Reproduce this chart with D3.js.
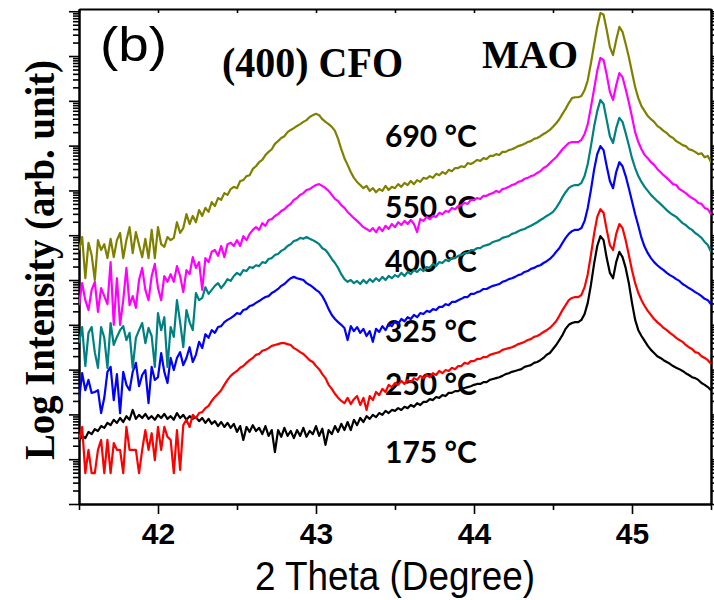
<!DOCTYPE html>
<html>
<head>
<meta charset="utf-8">
<script src="https://cdn.jsdelivr.net/npm/d3@7"></script>
<style>
  html, body { margin: 0; padding: 0; background: #fff; }
  svg { display: block; }
</style>
</head>
<body>
<svg id="chart" width="714" height="600"></svg>
<script>
// XRD scan: 2-theta from 41.5 deg in steps of 0.02 deg
const scanStart = 41.5;
const scanStep = 0.02;

const xMajorTicks = [42, 43, 44, 45];
const xMinorTicks = [41.5, 42.5, 43.5, 44.5, 45.5];
const xTickLabels = ["42", "43", "44", "45"];
const yDecades = [0, 1, 2, 3, 4, 5, 6, 7, 8, 9, 10, 11];

const seriesNames = ["175 °C", "250 °C", "325 °C", "400 °C", "550 °C", "690 °C"];
const seriesColors = ["#000000", "#ff0000", "#0000ff", "#008080", "#ff00ff", "#808000"];

// log10 intensity (stacked, arb. unit), one value per scan step
const log690 = [
  5.67, 5.96, 5.04, 5.83, 5.56, 5.00, 5.89, 5.67, 5.80, 5.49,
  5.92, 5.51, 5.89, 6.05, 5.49, 5.89, 6.18, 5.60, 6.07, 5.78,
  5.51, 5.92, 5.49, 6.12, 5.49, 6.18, 5.80, 5.74, 5.96, 5.89,
  5.94, 6.29, 6.05, 6.16, 6.47, 6.25, 6.43, 6.29, 6.56, 6.43,
  6.61, 6.52, 6.74, 6.65, 6.83, 6.79, 6.94, 6.90, 7.03, 7.08,
  7.05, 7.21, 7.23, 7.32, 7.34, 7.48, 7.54, 7.63, 7.68, 7.79,
  7.86, 7.92, 8.04, 8.10, 8.17, 8.21, 8.30, 8.35, 8.39, 8.44,
  8.48, 8.53, 8.57, 8.64, 8.68, 8.71, 8.68, 8.59, 8.53, 8.48,
  8.42, 8.33, 8.15, 7.92, 7.72, 7.57, 7.41, 7.28, 7.19, 7.12,
  7.05, 7.10, 6.99, 7.05, 6.96, 7.03, 6.99, 7.10, 7.01, 7.08,
  7.05, 7.14, 7.08, 7.17, 7.12, 7.21, 7.14, 7.23, 7.19, 7.28,
  7.26, 7.32, 7.28, 7.37, 7.34, 7.41, 7.37, 7.46, 7.43, 7.50,
  7.50, 7.54, 7.52, 7.61, 7.59, 7.63, 7.68, 7.66, 7.72, 7.70,
  7.77, 7.77, 7.81, 7.79, 7.86, 7.86, 7.90, 7.92, 7.95, 7.99,
  8.01, 8.04, 8.08, 8.10, 8.15, 8.17, 8.21, 8.26, 8.30, 8.35,
  8.42, 8.50, 8.59, 8.71, 8.82, 8.95, 9.06, 9.08, 9.08, 9.11,
  9.24, 9.46, 9.84, 10.25, 10.65, 10.96, 10.92, 10.58, 10.20, 10.02,
  10.36, 10.65, 10.54, 10.27, 9.98, 9.64, 9.31, 9.06, 8.88, 8.77,
  8.66, 8.59, 8.53, 8.44, 8.39, 8.33, 8.28, 8.21, 8.17, 8.10,
  8.06, 8.01, 7.99, 7.92, 7.90, 7.86, 7.81, 7.83, 7.74, 7.77, 7.63
];

const log550 = [
  4.44, 4.93, 4.55, 4.33, 4.78, 4.96, 4.29, 4.82, 4.64, 4.46,
  5.40, 4.00, 5.04, 4.00, 4.55, 5.27, 4.44, 4.64, 4.38, 5.00,
  5.27, 4.78, 4.55, 5.09, 5.36, 4.82, 4.55, 5.09, 4.96, 5.13,
  4.96, 5.31, 5.09, 4.73, 5.22, 5.13, 5.51, 5.27, 5.40, 4.78,
  5.49, 5.40, 5.63, 5.67, 5.54, 5.76, 5.51, 5.80, 5.83, 5.76,
  5.89, 5.76, 5.98, 5.89, 6.03, 6.12, 6.18, 6.12, 6.27, 6.21,
  6.34, 6.36, 6.43, 6.47, 6.54, 6.58, 6.65, 6.70, 6.79, 6.83,
  6.90, 6.94, 7.01, 7.03, 7.08, 7.12, 7.14, 7.10, 7.05, 6.99,
  6.90, 6.81, 6.76, 6.67, 6.61, 6.52, 6.45, 6.38, 6.32, 6.25,
  6.18, 6.14, 6.09, 6.16, 6.07, 6.18, 6.09, 6.21, 6.14, 6.25,
  6.18, 6.29, 6.23, 6.32, 6.25, 6.34, 6.25, 6.07, 6.36, 6.32,
  6.41, 6.36, 6.43, 6.41, 6.50, 6.47, 6.54, 6.52, 6.61, 6.58,
  6.65, 6.67, 6.72, 6.70, 6.79, 6.79, 6.83, 6.81, 6.88, 6.88,
  6.92, 6.94, 6.99, 6.96, 7.03, 7.05, 7.08, 7.12, 7.14, 7.19,
  7.21, 7.26, 7.28, 7.32, 7.34, 7.39, 7.43, 7.50, 7.54, 7.61,
  7.68, 7.74, 7.83, 7.92, 7.99, 8.06, 8.08, 8.08, 8.08, 8.13,
  8.26, 8.48, 8.86, 9.26, 9.67, 9.96, 9.91, 9.58, 9.20, 9.02,
  9.35, 9.62, 9.53, 9.26, 8.97, 8.64, 8.30, 8.08, 7.92, 7.79,
  7.72, 7.63, 7.57, 7.48, 7.41, 7.34, 7.28, 7.21, 7.14, 7.12,
  7.03, 6.99, 6.94, 6.88, 6.83, 6.79, 6.72, 6.70, 6.61, 6.58, 6.47
];

const log400 = [
  3.59, 3.95, 3.08, 3.82, 3.95, 3.39, 3.04, 3.95, 3.71, 3.04,
  4.04, 3.55, 3.73, 3.88, 3.97, 3.66, 3.82, 3.04, 3.71, 3.88,
  4.04, 3.59, 3.93, 3.75, 3.06, 4.26, 3.88, 4.17, 3.06, 3.95,
  3.73, 4.55, 4.06, 3.50, 4.33, 4.06, 3.88, 4.71, 4.55, 4.60,
  4.84, 4.69, 4.78, 4.87, 4.93, 4.82, 4.91, 5.02, 4.98, 5.09,
  5.16, 5.11, 5.22, 5.20, 5.29, 5.27, 5.33, 5.31, 5.40, 5.38,
  5.47, 5.49, 5.56, 5.58, 5.65, 5.69, 5.76, 5.80, 5.87, 5.89,
  5.94, 5.92, 5.96, 5.92, 5.89, 5.85, 5.80, 5.71, 5.67, 5.58,
  5.47, 5.38, 5.27, 5.13, 5.02, 4.96, 5.00, 4.93, 4.98, 4.91,
  5.00, 4.93, 5.02, 4.96, 5.04, 4.98, 5.07, 5.00, 5.09, 5.04,
  5.11, 5.07, 5.16, 5.09, 5.18, 5.13, 5.22, 5.18, 5.25, 5.20,
  5.29, 5.27, 5.36, 5.31, 5.40, 5.38, 5.45, 5.42, 5.49, 5.49,
  5.54, 5.56, 5.60, 5.60, 5.67, 5.67, 5.71, 5.71, 5.76, 5.78,
  5.80, 5.85, 5.87, 5.89, 5.94, 5.96, 5.98, 6.03, 6.05, 6.09,
  6.12, 6.14, 6.18, 6.21, 6.25, 6.29, 6.34, 6.38, 6.43, 6.47,
  6.52, 6.61, 6.72, 6.85, 6.96, 7.05, 7.10, 7.12, 7.12, 7.17,
  7.32, 7.59, 7.99, 8.42, 8.77, 9.02, 8.93, 8.57, 8.21, 8.06,
  8.39, 8.62, 8.53, 8.28, 8.01, 7.72, 7.50, 7.32, 7.19, 7.08,
  6.99, 6.90, 6.83, 6.76, 6.70, 6.63, 6.56, 6.50, 6.45, 6.41,
  6.34, 6.27, 6.23, 6.16, 6.12, 6.05, 6.00, 5.94, 5.85, 5.78, 5.63
];

const log325 = [
  2.32, 2.92, 2.54, 2.77, 2.48, 2.50, 2.54, 2.03, 2.37, 2.95,
  3.06, 2.32, 2.90, 2.03, 2.95, 2.66, 2.54, 2.95, 3.15, 2.63,
  2.88, 2.99, 2.25, 3.06, 2.77, 2.83, 3.37, 2.95, 2.70, 3.26,
  2.99, 3.26, 3.39, 3.10, 3.26, 3.50, 3.17, 3.33, 3.62, 3.48,
  3.79, 3.71, 3.88, 3.82, 3.95, 3.97, 4.06, 4.11, 4.15, 4.20,
  4.26, 4.24, 4.33, 4.35, 4.42, 4.44, 4.49, 4.53, 4.58, 4.62,
  4.64, 4.71, 4.75, 4.80, 4.87, 4.91, 4.98, 5.04, 5.07, 5.04,
  5.02, 5.00, 4.93, 4.89, 4.84, 4.78, 4.73, 4.64, 4.51, 4.35,
  4.22, 4.13, 4.06, 4.00, 3.93, 3.66, 3.97, 3.86, 3.95, 3.82,
  3.91, 3.75, 3.86, 3.62, 3.91, 3.84, 3.97, 3.88, 4.02, 3.97,
  4.08, 4.02, 4.13, 4.08, 4.17, 4.13, 4.22, 4.17, 4.26, 4.24,
  4.31, 4.29, 4.35, 4.33, 4.40, 4.40, 4.46, 4.44, 4.51, 4.51,
  4.55, 4.58, 4.62, 4.62, 4.69, 4.69, 4.73, 4.75, 4.80, 4.80,
  4.84, 4.87, 4.89, 4.91, 4.96, 4.98, 5.02, 5.04, 5.07, 5.11,
  5.13, 5.18, 5.20, 5.25, 5.27, 5.31, 5.33, 5.38, 5.42, 5.47,
  5.54, 5.63, 5.71, 5.83, 5.94, 6.03, 6.09, 6.12, 6.12, 6.16,
  6.32, 6.61, 7.01, 7.46, 7.81, 7.99, 7.90, 7.54, 7.21, 7.05,
  7.41, 7.63, 7.54, 7.32, 7.05, 6.76, 6.47, 6.21, 5.94, 5.74,
  5.60, 5.49, 5.40, 5.33, 5.27, 5.22, 5.16, 5.11, 5.07, 5.02,
  4.98, 4.91, 4.87, 4.82, 4.78, 4.73, 4.69, 4.64, 4.58, 4.55, 4.46
];

const log250 = [
  1.43, 1.72, 0.69, 1.21, 0.69, 0.69, 1.21, 1.43, 0.69, 1.43,
  0.69, 1.36, 1.21, 1.21, 0.69, 1.72, 1.21, 1.21, 1.21, 0.69,
  1.21, 1.65, 1.21, 1.58, 0.98, 1.72, 1.21, 1.72, 1.50, 1.43,
  0.69, 1.65, 0.76, 1.76, 1.88, 1.72, 1.99, 1.92, 2.03, 2.05,
  2.14, 2.19, 2.30, 2.39, 2.46, 2.54, 2.66, 2.77, 2.86, 2.92,
  2.97, 3.04, 3.08, 3.15, 3.21, 3.26, 3.33, 3.35, 3.42, 3.44,
  3.48, 3.53, 3.55, 3.57, 3.59, 3.59, 3.57, 3.55, 3.48, 3.44,
  3.39, 3.35, 3.28, 3.21, 3.17, 3.08, 3.01, 2.90, 2.81, 2.66,
  2.57, 2.46, 2.37, 2.30, 2.25, 2.37, 2.23, 2.34, 2.41, 2.21,
  2.37, 2.10, 2.41, 2.32, 2.50, 2.43, 2.57, 2.50, 2.66, 2.61,
  2.70, 2.66, 2.75, 2.68, 2.77, 2.72, 2.81, 2.77, 2.86, 2.81,
  2.88, 2.83, 2.92, 2.88, 2.97, 2.92, 2.99, 2.97, 3.04, 3.01,
  3.08, 3.08, 3.15, 3.13, 3.19, 3.19, 3.24, 3.24, 3.28, 3.28,
  3.33, 3.35, 3.37, 3.39, 3.44, 3.46, 3.48, 3.50, 3.53, 3.57,
  3.59, 3.62, 3.66, 3.68, 3.73, 3.75, 3.79, 3.84, 3.88, 3.93,
  4.00, 4.08, 4.20, 4.33, 4.44, 4.55, 4.60, 4.62, 4.62, 4.67,
  4.84, 5.13, 5.56, 6.03, 6.41, 6.58, 6.50, 6.12, 5.78, 5.67,
  6.03, 6.25, 6.16, 5.89, 5.56, 5.22, 4.93, 4.71, 4.55, 4.42,
  4.31, 4.22, 4.13, 4.06, 4.00, 3.93, 3.88, 3.82, 3.77, 3.71,
  3.66, 3.62, 3.55, 3.50, 3.46, 3.39, 3.37, 3.30, 3.26, 3.21, 3.13
];

const log175 = [
  1.41, 1.52, 1.47, 1.61, 1.56, 1.67, 1.63, 1.74, 1.70, 1.81,
  1.76, 1.88, 1.81, 1.92, 1.83, 1.96, 1.88, 2.10, 1.90, 1.99,
  1.92, 2.01, 1.90, 1.96, 1.88, 1.99, 1.92, 2.01, 1.90, 1.96,
  1.88, 2.03, 1.92, 1.99, 1.88, 1.96, 1.90, 1.94, 1.85, 1.92,
  1.81, 1.90, 1.79, 1.85, 1.74, 1.83, 1.72, 1.81, 1.70, 1.79,
  1.61, 1.74, 1.43, 1.72, 1.61, 1.76, 1.63, 1.70, 1.56, 1.74,
  1.52, 1.65, 1.16, 1.65, 1.50, 1.70, 1.52, 1.63, 1.47, 1.65,
  1.52, 1.70, 1.50, 1.63, 1.56, 1.74, 1.52, 1.68, 1.32, 1.65,
  1.56, 1.74, 1.61, 1.79, 1.65, 1.83, 1.65, 1.88, 1.76, 1.92,
  1.83, 1.96, 1.90, 1.99, 1.94, 2.03, 1.99, 2.08, 2.03, 2.10,
  2.08, 2.14, 2.10, 2.17, 2.14, 2.21, 2.17, 2.25, 2.21, 2.28,
  2.28, 2.34, 2.32, 2.39, 2.37, 2.43, 2.41, 2.48, 2.48, 2.52,
  2.52, 2.57, 2.59, 2.61, 2.63, 2.66, 2.68, 2.68, 2.72, 2.72,
  2.77, 2.79, 2.81, 2.83, 2.86, 2.90, 2.92, 2.95, 2.97, 2.99,
  3.01, 3.06, 3.08, 3.10, 3.15, 3.17, 3.21, 3.26, 3.33, 3.37,
  3.46, 3.55, 3.66, 3.77, 3.91, 4.00, 4.04, 4.06, 4.06, 4.11,
  4.24, 4.49, 4.89, 5.36, 5.76, 5.98, 5.89, 5.49, 5.16, 5.04,
  5.40, 5.63, 5.51, 5.27, 4.93, 4.49, 4.11, 3.88, 3.75, 3.64,
  3.53, 3.44, 3.37, 3.30, 3.26, 3.21, 3.17, 3.13, 3.08, 3.04,
  3.01, 2.97, 2.92, 2.88, 2.83, 2.81, 2.77, 2.70, 2.66, 2.61, 2.54
];

const seriesValues = [log175, log250, log325, log400, log550, log690];

// ---------- drawing ----------
const svg = d3.select("#chart");
const plot = { left: 79, right: 711, top: 9, bottom: 504 };

const x = d3.scaleLinear().domain([41.5, 45.5]).range([plot.left, plot.right]);
const y = d3.scaleLog().domain([1, Math.pow(10, 11.05)]).range([plot.bottom, plot.top]);

svg.append("defs").append("clipPath").attr("id", "plotClip")
  .append("rect")
  .attr("x", plot.left).attr("y", plot.top - 1)
  .attr("width", plot.right - plot.left).attr("height", plot.bottom - plot.top + 1);

// y tick values: decades and the 2..9 multiples in between
const yMajor = yDecades.map(d => Math.pow(10, d));
const yMinor = [];
yDecades.forEach(d => {
  for (let m = 2; m <= 9; m++) {
    const v = m * Math.pow(10, d);
    if (v < y.domain()[1]) yMinor.push(v);
  }
});

function styleAxis(g) {
  g.selectAll("path.domain").attr("stroke", "#000").attr("stroke-width", 2);
  g.selectAll(".tick line").attr("stroke", "#000").attr("stroke-width", 1.6);
  g.selectAll(".tick text").remove();
}

// left axis
svg.append("g").attr("transform", `translate(${plot.left},0)`)
  .call(d3.axisLeft(y).tickValues(yMinor).tickSize(6).tickSizeOuter(0).tickFormat(""))
  .call(styleAxis);
svg.append("g").attr("transform", `translate(${plot.left},0)`)
  .call(d3.axisLeft(y).tickValues(yMajor).tickSize(10).tickSizeOuter(0).tickFormat(""))
  .call(styleAxis);

// right axis
svg.append("g").attr("transform", `translate(${plot.right},0)`)
  .call(d3.axisRight(y).tickValues(yMinor).tickSize(6).tickSizeOuter(0).tickFormat(""))
  .call(styleAxis);
svg.append("g").attr("transform", `translate(${plot.right},0)`)
  .call(d3.axisRight(y).tickValues(yMajor).tickSize(10).tickSizeOuter(0).tickFormat(""))
  .call(styleAxis);

// top axis (short inward ticks)
svg.append("g").attr("transform", `translate(0,${plot.top})`)
  .call(d3.axisTop(x).tickValues(xMajorTicks.concat(xMinorTicks)).tickSize(-4).tickSizeOuter(0).tickFormat(""))
  .call(styleAxis);

// bottom axis
svg.append("g").attr("transform", `translate(0,${plot.bottom})`)
  .call(d3.axisBottom(x).tickValues(xMinorTicks).tickSize(6).tickSizeOuter(0).tickFormat(""))
  .call(styleAxis);
const bottomMajor = svg.append("g").attr("transform", `translate(0,${plot.bottom})`)
  .call(d3.axisBottom(x).tickValues(xMajorTicks).tickSize(10).tickSizeOuter(0)
    .tickFormat((d, i) => xTickLabels[i]));
bottomMajor.selectAll("path.domain").attr("stroke", "#000").attr("stroke-width", 2);
bottomMajor.selectAll(".tick line").attr("stroke", "#000").attr("stroke-width", 1.6);
bottomMajor.selectAll(".tick text")
  .attr("y", 40).attr("dy", 0)
  .attr("fill", "#000")
  .style("font-family", "'Liberation Sans', Arial, sans-serif")
  .style("font-weight", "bold")
  .style("font-size", "30px");

// temperature labels (drawn beneath the curves)
const labelLayout = {
  "690 °C": 147, "550 °C": 218, "400 °C": 272,
  "325 °C": 342, "250 °C": 395, "175 °C": 463
};
svg.append("g").selectAll("text")
  .data(seriesNames)
  .join("text")
  .attr("x", 385)
  .attr("y", d => labelLayout[d])
  .attr("fill", "#000")
  .style("font-family", "Lato, 'Open Sans', sans-serif")
  .style("font-weight", "bold")
  .style("font-size", "30px")
  .text(d => d);

// curves
const line = d3.line()
  .x((d, i) => x(scanStart + i * scanStep))
  .y(d => y(Math.pow(10, d)));

svg.append("g").attr("clip-path", "url(#plotClip)")
  .selectAll("path")
  .data(seriesValues)
  .join("path")
  .attr("d", d => line(d))
  .attr("fill", "none")
  .attr("stroke", (d, i) => seriesColors[i])
  .attr("stroke-width", 2.2)
  .attr("stroke-linejoin", "round");

// annotations
svg.append("text")
  .attr("x", 100).attr("y", 61)
  .attr("textLength", 67).attr("lengthAdjust", "spacingAndGlyphs")
  .style("font-family", "'Liberation Sans', Arial, sans-serif")
  .style("font-size", "48px")
  .text("(b)");

svg.append("text")
  .attr("x", 222).attr("y", 77)
  .attr("textLength", 181).attr("lengthAdjust", "spacingAndGlyphs")
  .style("font-family", "'Liberation Serif', 'Times New Roman', serif")
  .style("font-weight", "bold")
  .style("font-size", "42px")
  .text("(400) CFO");

svg.append("text")
  .attr("x", 482).attr("y", 68)
  .attr("textLength", 96).attr("lengthAdjust", "spacingAndGlyphs")
  .style("font-family", "'Liberation Serif', 'Times New Roman', serif")
  .style("font-weight", "bold")
  .style("font-size", "40px")
  .text("MAO");

// axis titles
svg.append("text")
  .attr("x", 255).attr("y", 590)
  .attr("textLength", 280).attr("lengthAdjust", "spacingAndGlyphs")
  .style("font-family", "'Liberation Sans', Arial, sans-serif")
  .style("font-size", "41px")
  .text("2 Theta (Degree)");

svg.append("text")
  .attr("transform", "translate(54,460) rotate(-90)")
  .attr("x", 0).attr("y", 0)
  .attr("textLength", 400).attr("lengthAdjust", "spacingAndGlyphs")
  .style("font-family", "'Liberation Serif', 'Times New Roman', serif")
  .style("font-weight", "bold")
  .style("font-size", "43px")
  .text("Log Intensity (arb. unit)");
</script>
</body>
</html>
